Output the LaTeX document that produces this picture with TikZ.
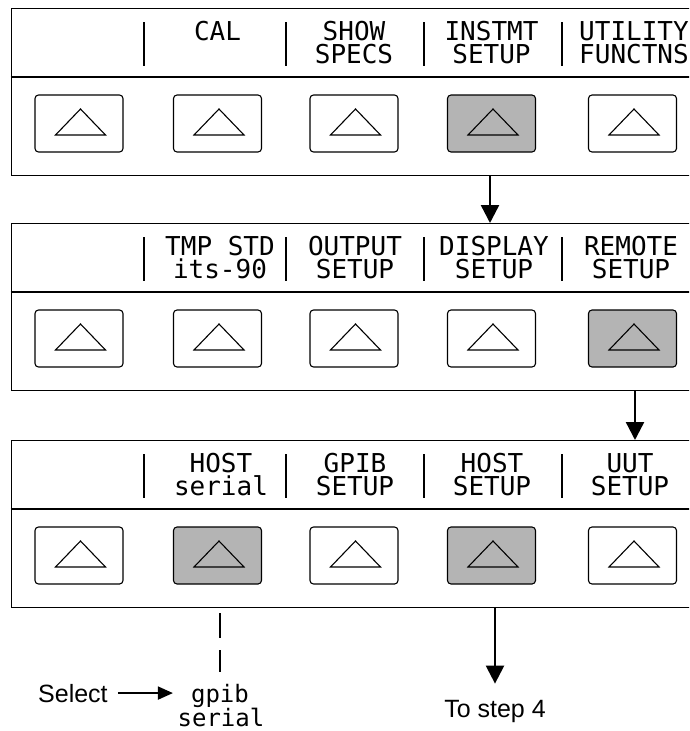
\documentclass[tikz,border=0pt]{standalone}
\usepackage{fontspec}
\setmainfont{Liberation Sans}
\newfontfamily\lcdfont{DejaVu Sans Mono}
\usetikzlibrary{arrows.meta}
\definecolor{btngray}{RGB}{180,180,180}
\begin{document}
\begin{tikzpicture}[x=1pt,y=-1pt,
  panel/.style={draw, line width=1.4pt, minimum width=700pt, minimum height=167pt, anchor=north west, inner sep=0pt},
  btn/.style={draw, line width=1.1pt, rounded corners=3.5pt, minimum width=88pt, minimum height=57pt, inner sep=0pt},
  tri/.style={line width=1.1pt, line join=miter},
  sepline/.style={line width=2.6pt},
  lbl/.style={font=\lcdfont\fontsize{26}{23}\selectfont, align=center, anchor=base, inner sep=0pt},
  opt/.style={font=\lcdfont\fontsize{24}{26}\selectfont, anchor=base, inner sep=0pt},
  note/.style={font=\fontsize{25}{28}\selectfont, inner sep=0pt},
  flow/.style={line width=2.4pt, -{Triangle[width=18pt,length=18pt]}},
  selarrow/.style={line width=1.8pt, -{Triangle[width=13pt,length=15pt]}}
]
\fill[white] (0,0) rectangle (689,731);
\clip (0,0) rectangle (689,731);

% panels
\foreach \p/\t in {1/8,2/223,3/440} {
  \node[panel] (p\p) at (10.5,\t) {};
  \draw[line width=1.4pt] ([yshift=-69pt]p\p.north west) -- ([yshift=-69pt]p\p.north east);
  \foreach \x in {144,286,424,562} \draw[sepline] (\x,\t+14) -- (\x,\t+58);
}

% buttons
\foreach \p/\t/\fa/\fb/\fc/\fd/\fe in {1/8/white/white/white/btngray/white,
                                        2/223/white/white/white/white/btngray,
                                        3/440/white/btngray/white/btngray/white} {
  \foreach \i/\x/\f in {1/79/\fa,2/217.5/\fb,3/354/\fc,4/491.5/\fd,5/632.5/\fe} {
    \node[btn, fill=\f] (b\p\i) at (\x,\t+115.5) {};
    \draw[tri] ([xshift=-23.5pt,yshift=-11.5pt]b\p\i.center) -- ([xshift=1.5pt,yshift=14.5pt]b\p\i.center)
      -- ([xshift=26.5pt,yshift=-11.5pt]b\p\i.center) -- cycle;
  }
}

% labels panel 1 (anchor base = last line)
\node[lbl] (l12) at (217.5,40) {CAL};
\node[lbl] (l13) at (354,63) {SHOW\\SPECS};
\node[lbl] (l14) at (491.5,63) {INSTMT\\SETUP};
\node[lbl] (l15) at (634,63) {UTILITY\\FUNCTNS};
% labels panel 2
\node[lbl] (l22) at (220,278) {TMP STD\\its-90};
\node[lbl] (l23) at (355,278) {OUTPUT\\SETUP};
\node[lbl] (l24) at (494,278) {DISPLAY\\SETUP};
\node[lbl] (l25) at (631,278) {REMOTE\\SETUP};
% labels panel 3
\node[lbl] (l32) at (221,495) {HOST\\serial};
\node[lbl] (l33) at (355,495) {GPIB\\SETUP};
\node[lbl] (l34) at (492,495) {HOST\\SETUP};
\node[lbl] (l35) at (630,495) {UUT\\SETUP};

% flow arrows
\draw[flow] ([xshift=-1.5pt]b14 |- p1.south) -- ([xshift=-1.5pt]b14 |- p2.north);
\draw[flow] ([xshift=2.5pt]b25 |- p2.south) -- ([xshift=2.5pt]b25 |- p3.north);

% bottom
\node[note, anchor=base west] (sel) at (38,702) {Select};
\node[opt] (g) at (220,702) {gpib};
\node[opt] (s) at (221,726) {serial};
\draw[selarrow] ([xshift=10pt]sel.east) -- ([xshift=-18pt]g.west |- sel.east);
\draw[line width=2pt, dash pattern=on 25pt off 12pt] ([yshift=-5pt]p3.south -| g) -- ([yshift=12pt]g.north);
\node[note, anchor=base] (step) at (495,717) {To step 4};
\draw[flow] (p3.south -| step) -- ([yshift=16pt]step.north);
\end{tikzpicture}
\end{document}
